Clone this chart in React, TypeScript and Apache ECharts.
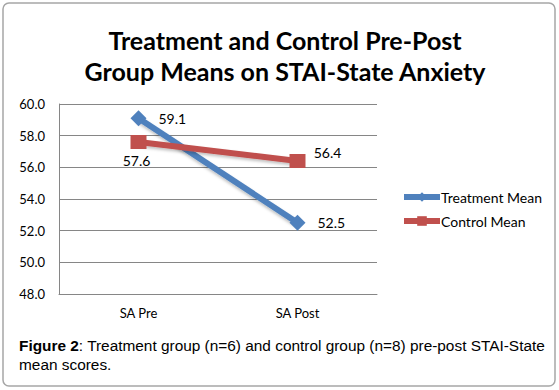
import React, { useEffect, useRef } from "react";
import * as echarts from "echarts";

const categories = ["SA Pre", "SA Post"];
const treatmentMean = [59.1, 52.5];
const controlMean = [57.6, 56.4];
const titleLines = ["Treatment and Control Pre-Post", "Group Means on STAI-State Anxiety"];

export default function App() {
  const ref = useRef<HTMLDivElement>(null);
  useEffect(() => {
    const chart = echarts.init(ref.current!, null, { renderer: "svg" });
    const labelFont = { fontFamily: "Lato, 'Open Sans', sans-serif", fontSize: 14, color: "#000" };
    const fmt = (p: any) => Number(p.value).toFixed(1);
    chart.setOption({
      animation: false,
      title: {
        text: titleLines.join("\n"),
        top: 19,
        left: 280,
        textAlign: "center",
        textStyle: { fontFamily: "Lato, sans-serif", fontWeight: "bold", fontSize: 25, lineHeight: 31, color: "#000" },
      },
      legend: {
        orient: "vertical",
        left: 396,
        top: 185,
        itemWidth: 36,
        itemHeight: 12,
        itemGap: 10,
        lineStyle: { width: 6 },
        textStyle: { ...labelFont, fontSize: 14, padding: [0, 0, 0, -4] },
        data: ["Treatment Mean", "Control Mean"],
      },
      grid: { left: 59, right: 182, top: 104, bottom: 96 },
      xAxis: {
        type: "category",
        data: categories,
        boundaryGap: true,
        axisLine: { lineStyle: { color: "#868686" } },
        axisTick: { show: false },
        axisLabel: { ...labelFont, fontSize: 13, margin: 12 },
      },
      yAxis: {
        type: "value",
        min: 48,
        max: 60,
        interval: 2,
        axisLine: { show: true, lineStyle: { color: "#868686" } },
        axisTick: { show: false },
        splitLine: { lineStyle: { color: "#868686" } },
        axisLabel: { ...labelFont, fontSize: 13, margin: 14, formatter: (v: number) => v.toFixed(1) },
      },
      series: [
        {
          name: "Treatment Mean",
          type: "line",
          data: treatmentMean,
          symbol: "diamond",
          symbolSize: 16,
          lineStyle: { color: "#4F81BD", width: 6, shadowColor: "rgba(0,0,0,0.25)", shadowBlur: 3, shadowOffsetY: 2 },
          itemStyle: { color: "#4F81BD" },
          label: {
            show: true,
            position: "right",
            distance: 12,
            ...labelFont,
            formatter: fmt,
          },
        },
        {
          name: "Control Mean",
          type: "line",
          data: controlMean,
          symbol: "rect",
          symbolSize: [16, 14],
          lineStyle: { color: "#C0504D", width: 6, shadowColor: "rgba(0,0,0,0.25)", shadowBlur: 3, shadowOffsetY: 2 },
          itemStyle: { color: "#C0504D" },
          label: {
            show: true,
            ...labelFont,
            formatter: fmt,
          },
          labelLayout: (params: any) => {
            const r = params.rect;
            if (params.dataIndex === 0) {
              return { x: r.x + r.width / 2 - 2, y: r.y + r.height + 11, align: "center", verticalAlign: "middle" };
            }
            return { x: r.x + r.width / 2 + 30, y: r.y + r.height / 2 - 9, align: "center", verticalAlign: "middle" };
          },
        },
      ],
      graphic: [
        {
          type: "rect",
          shape: { x: 3, y: 3, width: 552, height: 383, r: 6 },
          style: { fill: "none", stroke: "#a6a6a6", lineWidth: 1.5 },
          silent: true,
        },
        {
          type: "text",
          left: 19,
          top: 336,
          style: {
            rich: {
              b: { fontFamily: "Arial, 'Liberation Sans', sans-serif", fontSize: 15.4, fontWeight: "bold", fill: "#000" },
              n: { fontFamily: "Arial, 'Liberation Sans', sans-serif", fontSize: 15.4, fill: "#000" },
            },
            text: "{b|Figure 2}{n|: Treatment group (n=6) and control group (n=8) pre-post STAI-State}\n{n|mean scores.}",
            lineHeight: 19,
          },
        },
      ],
    });
    return () => chart.dispose();
  }, []);
  return <div ref={ref} style={{ position: "fixed", left: 0, top: 0, width: 559, height: 390, background: "#fff" }} />;
}
